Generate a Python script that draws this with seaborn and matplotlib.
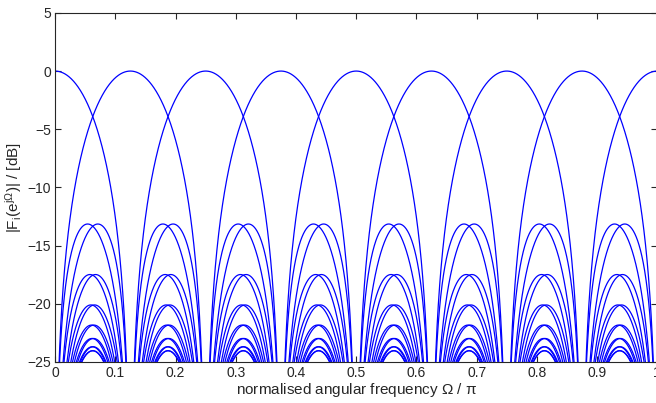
import numpy as np
import pandas as pd
import matplotlib
matplotlib.use('Agg')
import matplotlib.pyplot as plt
import seaborn as sns

# prototype filter: rectangular window, 16 taps
prototype_taps = [1, 1, 1, 1, 1, 1, 1, 1, 1, 1, 1, 1, 1, 1, 1, 1]
# centre frequencies of the 16 DFT channels (Omega / pi)
channel_centres = [0.0, 0.125, 0.25, 0.375, 0.5, 0.625, 0.75, 0.875,
                   1.0, 1.125, 1.25, 1.375, 1.5, 1.625, 1.75, 1.875]
x_ticks = [0, 0.1, 0.2, 0.3, 0.4, 0.5, 0.6, 0.7, 0.8, 0.9, 1]
y_ticks = [-25, -20, -15, -10, -5, 0, 5]

# frequency responses of the modulated filters
h = np.array(prototype_taps, dtype=float)
n = np.arange(len(h))
omega = np.linspace(0, 1, 3001)
rows = []
for i, c in enumerate(channel_centres):
    H = np.exp(-1j * np.pi * np.outer(omega - c, n)) @ h / h.sum()
    mag = 20 * np.log10(np.abs(H) + 1e-12)
    rows.append(pd.DataFrame({'omega': omega, 'mag': mag, 'channel': i}))
df = pd.concat(rows, ignore_index=True)

sns.set_style('ticks')
plt.rcParams['font.family'] = ['Liberation Sans', 'DejaVu Sans']
plt.rcParams['mathtext.fontset'] = 'custom'
plt.rcParams['mathtext.rm'] = 'Liberation Sans'
plt.rcParams['mathtext.it'] = 'Liberation Sans'

fig = plt.figure(figsize=(6.56, 4.03), dpi=100)
ax = fig.add_axes([0.084, 0.102, 0.918, 0.866])
sns.lineplot(data=df, x='omega', y='mag', hue='channel', units='channel',
             estimator=None, sort=False, palette=['#0000ff'] * 16,
             linewidth=0.9, legend=False, ax=ax)

ax.set_xlim(0, 1)
ax.set_ylim(-25, 5)
ax.set_xticks(x_ticks)
ax.set_xticklabels(['0', '0.1', '0.2', '0.3', '0.4', '0.5', '0.6', '0.7', '0.8', '0.9', '1'])
ax.set_yticks(y_ticks)
ax.tick_params(direction='in', length=4, top=True, right=True, labelsize=10, pad=3)
for s in ax.spines.values():
    s.set_visible(True)
    s.set_linewidth(0.8)
ax.set_xlabel(r'normalised angular frequency $\Omega$ / $\pi$', fontsize=11, labelpad=1)
ax.set_ylabel(r'$|F_i(e^{j\Omega})|$ / [dB]', fontsize=11, labelpad=2)

fig.savefig('out.png', dpi=100)
